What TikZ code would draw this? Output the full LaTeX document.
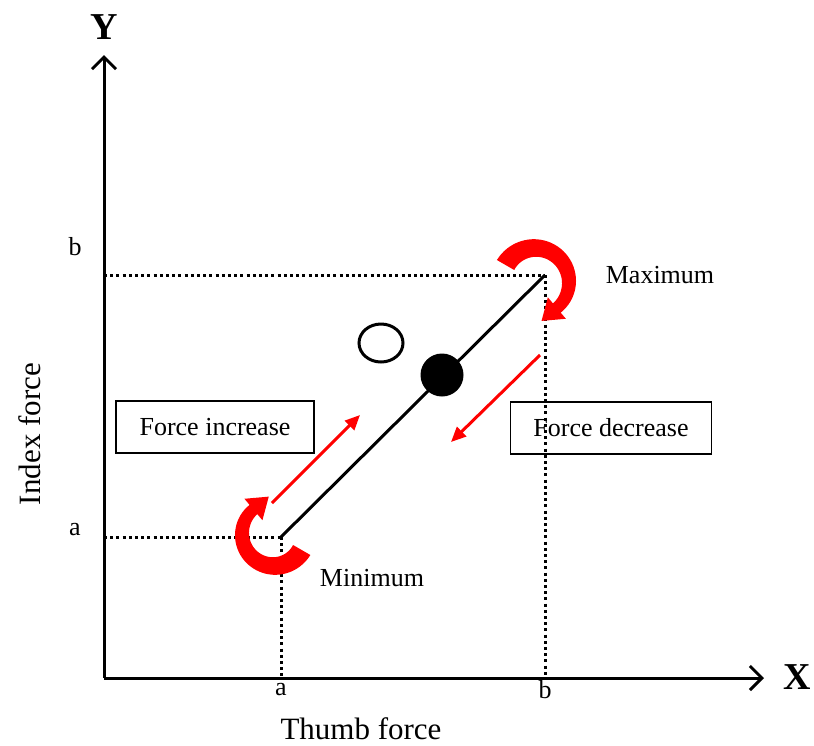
\documentclass[tikz,border=0pt]{standalone}
\usepackage{fontspec}
\setmainfont{Liberation Serif}
\usetikzlibrary{arrows.meta,calc,shapes.geometric}

% curved red arrow: centre x, centre y, radius, start angle, end angle
\newcommand{\turnarrow}[5]{%
	\fill[red] plot[domain=#4:#5,samples=40] ({#1+(#3+10-4*(\x-(#4))/((#5)-(#4)))*cos(\x)},{#2+(#3+10-4*(\x-(#4))/((#5)-(#4)))*sin(\x)})
	-- ({#1+(#3+14)*cos(#5)},{#2+(#3+14)*sin(#5)})
	-- ({#1+#3*cos(#5)-20*sin(#5)},{#2+#3*sin(#5)+20*cos(#5)})
	-- ({#1+(#3-14)*cos(#5)},{#2+(#3-14)*sin(#5)})
	-- plot[domain=#5:#4,samples=40] ({#1+(#3-10+4*(\x-(#4))/((#5)-(#4)))*cos(\x)},{#2+(#3-10+4*(\x-(#4))/((#5)-(#4)))*sin(\x)})
	-- cycle;}

\begin{document}
\begin{tikzpicture}[x=1pt,y=-1pt]

		\tikzset{axis/.style={draw,line width=3pt,-{Straight Barb[length=12pt,width=24pt,line width=3pt]}}}
		\tikzset{line/.style={draw,line width=3pt}}
		\tikzset{guide/.style={draw,line width=3pt,dash pattern=on 3pt off 3.2pt}}
		\tikzset{redarrow/.style={draw=red,line width=3pt,-{Triangle[length=15pt,width=13pt]}}}
		\tikzset{box/.style={draw,line width=1.5pt,minimum width=198pt,minimum height=52pt,inner sep=0pt}}
		\tikzset{txt/.style={font=\fontsize{26}{30}\selectfont}}
		\tikzset{axname/.style={font=\fontsize{31}{36}\selectfont}}
		\tikzset{axletter/.style={font=\fontsize{38}{40}\selectfont\bfseries}}

		\useasboundingbox (0,0) rectangle (814,745);

		\coordinate (o) at (104,678);
		\coordinate (ytip) at (104,55);
		\coordinate (xtip) at (764,678);
		\coordinate (yb) at (104,275);
		\coordinate (ya) at (104,537);
		\coordinate (xa) at (281,678);
		\coordinate (xb) at (545,678);
		\coordinate (min) at (281,537);
		\coordinate (max) at (545,275);

		\path[axis] (o) to (ytip);
		\path[axis] (o) to (xtip);
		\node[axletter] (ylab) at (104,27) {Y};
		\node[axletter] (xlab) at (797,677) {X};

		\path[guide] (yb) to (max);
		\path[guide] (max) to (xb);
		\path[guide] (ya) to (min);
		\path[guide] (min) to (xa);

		\node[txt] (bl) at (75,247) {b};
		\node[txt] (al) at (75,530) {a};
		\node[txt] (ax) at (281,690) {a};
		\node[txt] (bx) at (545,690) {b};

		\path[line] (min) to (max);

		\node[draw,line width=3pt,ellipse,minimum width=44pt,minimum height=38pt,inner sep=0pt] (open) at (381,343) {};
		\node[fill,circle,minimum size=43pt,inner sep=0pt] (dot) at (442,375) {};

		\node[box,txt] (inc) at (215,427) {Force increase};
		\node[box,txt,minimum width=201pt] (dec) at (611,428) {Force decrease};

		\coordinate (inc0) at (272,503);
		\coordinate (inc1) at (360,415);
		\coordinate (dec0) at (540,355);
		\coordinate (dec1) at (451,442);
		\path[redarrow] (inc0) to (inc1);
		\path[redarrow] (dec0) to (dec1);

		% turning points
		\turnarrow{535}{282}{34}{-150}{50}
		\turnarrow{274}{534}{32}{30}{230}

		\node[txt] (maxl) at (660,275) {Maximum};
		\node[txt] (minl) at (372,578) {Minimum};

		\node[axname,rotate=90] (ylabel) at (30,434) {Index force};
		\node[axname,anchor=base] (xlabel) at (361,739) {Thumb force};

	\end{tikzpicture}
\end{document}
